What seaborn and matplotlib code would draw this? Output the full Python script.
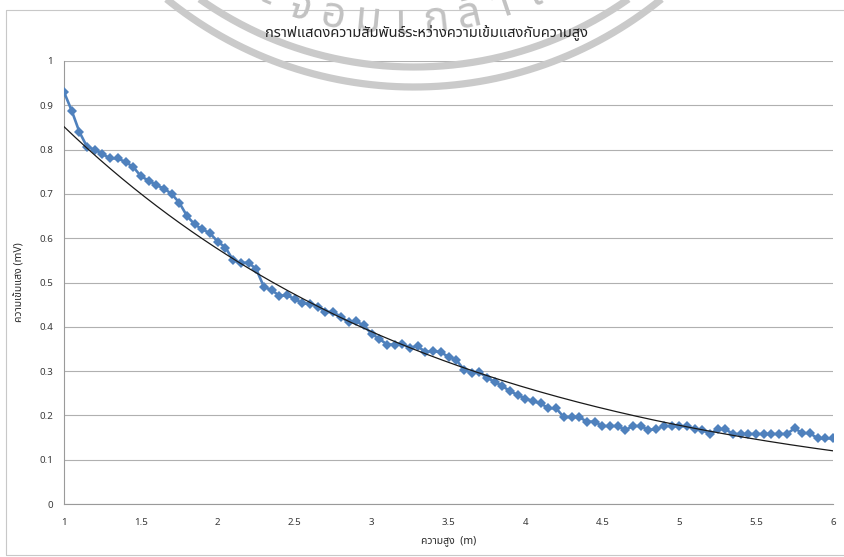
import numpy as np
import pandas as pd
import matplotlib
matplotlib.use("Agg")
import matplotlib.pyplot as plt
import seaborn as sns
from matplotlib import font_manager, ft2font

# ---- measured data -------------------------------------------------------
height_m = [
    1.00, 1.05, 1.10, 1.15, 1.20, 1.25, 1.30, 1.35, 1.40, 1.45,
    1.50, 1.55, 1.60, 1.65, 1.70, 1.75, 1.80, 1.85, 1.90, 1.95,
    2.00, 2.05, 2.10, 2.15, 2.20, 2.25, 2.30, 2.35, 2.40, 2.45,
    2.50, 2.55, 2.60, 2.65, 2.70, 2.75, 2.80, 2.85, 2.90, 2.95,
    3.00, 3.05, 3.10, 3.15, 3.20, 3.25, 3.30, 3.35, 3.40, 3.45,
    3.50, 3.55, 3.60, 3.65, 3.70, 3.75, 3.80, 3.85, 3.90, 3.95,
    4.00, 4.05, 4.10, 4.15, 4.20, 4.25, 4.30, 4.35, 4.40, 4.45,
    4.50, 4.55, 4.60, 4.65, 4.70, 4.75, 4.80, 4.85, 4.90, 4.95,
    5.00, 5.05, 5.10, 5.15, 5.20, 5.25, 5.30, 5.35, 5.40, 5.45,
    5.50, 5.55, 5.60, 5.65, 5.70, 5.75, 5.80, 5.85, 5.90, 5.95,
    6.00,
]
intensity_mv = [
    0.930, 0.888, 0.840, 0.806, 0.800, 0.790, 0.780, 0.780, 0.772, 0.761,
    0.740, 0.730, 0.720, 0.712, 0.700, 0.680, 0.650, 0.631, 0.620, 0.611,
    0.592, 0.579, 0.550, 0.544, 0.545, 0.530, 0.490, 0.483, 0.470, 0.471,
    0.463, 0.453, 0.452, 0.445, 0.434, 0.433, 0.423, 0.410, 0.412, 0.403,
    0.384, 0.373, 0.360, 0.360, 0.362, 0.353, 0.356, 0.343, 0.345, 0.343,
    0.332, 0.326, 0.303, 0.296, 0.298, 0.285, 0.276, 0.266, 0.255, 0.246,
    0.238, 0.232, 0.227, 0.216, 0.216, 0.196, 0.196, 0.196, 0.186, 0.186,
    0.176, 0.176, 0.176, 0.167, 0.176, 0.176, 0.167, 0.169, 0.176, 0.176,
    0.175, 0.176, 0.169, 0.167, 0.158, 0.169, 0.169, 0.158, 0.158, 0.158,
    0.158, 0.158, 0.158, 0.158, 0.158, 0.171, 0.160, 0.160, 0.148, 0.148,
    0.148,
]

y_ticks = [0, 0.1, 0.2, 0.3, 0.4, 0.5, 0.6, 0.7, 0.8, 0.9, 1.0]
y_tick_labels = ["0", "0.1", "0.2", "0.3", "0.4", "0.5", "0.6", "0.7", "0.8", "0.9", "1"]
x_ticks = [1, 1.5, 2, 2.5, 3, 3.5, 4, 4.5, 5, 5.5, 6]
x_tick_labels = ["1", "1.5", "2", "2.5", "3", "3.5", "4", "4.5", "5", "5.5", "6"]

title_text = "กราฟแสดงความสัมพันธ์ระหว่างความเข้มแสงกับความสูง"
x_label = "ความสูง  (m)"
y_label = "ความเข้มแสง (mV)"
seal_text = ["ส", "ถ", "า", "บั", "น", "เ", "ท", "ค", "โ", "น", "โ", "ล", "ยี",
             "พ", "ร", "ะ", "จ", "อ", "ม", "เ", "ก", "ล้", "า", "เ", "จ้", "า",
             "คุ", "ณ", "ท", "ห", "า", "ร"]


def find_thai_family():
    preferred = ["Tahoma", "Noto Sans Thai", "Noto Sans Thai UI", "Noto Sans Thai Looped",
                 "Loma", "Garuda", "Sarabun", "TH Sarabun New", "Umpush", "Waree",
                 "Kinnari", "Norasi", "Tlwg Typo", "FreeSans", "Noto Serif Thai"]
    found = {}
    for path in font_manager.findSystemFonts():
        try:
            face = ft2font.FT2Font(path)
            if 0x0E01 in face.get_charmap():
                font_manager.fontManager.addfont(path)
                name = font_manager.FontProperties(fname=path).get_name()
                found.setdefault(name, path)
        except Exception:
            continue
    for name in preferred:
        if name in found:
            return name
    return sorted(found)[0] if found else None


sns.set_theme(style="white")
thai = find_thai_family()
plt.rcParams["font.family"] = [thai, "DejaVu Sans"] if thai else ["DejaVu Sans"]

W, H = 844, 557
fig = plt.figure(figsize=(W / 100, H / 100), dpi=100)
fig.patch.set_facecolor("white")

ax = fig.add_axes([64 / W, 1 - 504 / H, (833 - 64) / W, (504 - 61) / H])

df = pd.DataFrame({"height": height_m, "intensity": intensity_mv})
sns.lineplot(data=df, x="height", y="intensity", ax=ax, color="#4f81bd",
             linewidth=1.9, marker="D", markersize=5.5, markeredgewidth=0,
             estimator=None, sort=False, zorder=3)

# exponential trend line fitted to the measurements
slope, intercept = np.polyfit(df["height"], np.log(df["intensity"]), 1)
xs = np.linspace(min(height_m), max(height_m), 200)
trend = pd.DataFrame({"height": xs, "intensity": np.exp(intercept + slope * xs)})
sns.lineplot(data=trend, x="height", y="intensity", ax=ax, color="#1a1a1a",
             linewidth=0.9, zorder=4)

ax.set_xlim(1, 6)
ax.set_ylim(0, 1)
ax.set_yticks(y_ticks)
ax.set_yticklabels(y_tick_labels)
ax.set_xticks(x_ticks)
ax.set_xticklabels(x_tick_labels)
ax.yaxis.grid(True, color="#b0b0b0", linewidth=0.8)
ax.xaxis.grid(False)
for side in ("top", "right"):
    ax.spines[side].set_visible(False)
for side in ("left", "bottom"):
    ax.spines[side].set_color("#9a9a9a")
    ax.spines[side].set_linewidth(0.8)
ax.tick_params(axis="both", direction="out", length=3, width=0.7, color="#9a9a9a",
               labelsize=7, labelcolor="#3a3a3a")
ax.tick_params(axis="x", pad=7)
ax.tick_params(axis="y", pad=5)
ax.set_xlabel(x_label, fontsize=7.5, fontweight="bold", color="#2a2a2a", labelpad=6)
ax.set_ylabel(y_label, fontsize=7.5, fontweight="bold", color="#2a2a2a", labelpad=10)

# overlay in pixel units for the frame and the seal
ov = fig.add_axes([0, 0, 1, 1], zorder=2)
ov.set_xlim(0, W)
ov.set_ylim(H, 0)
ov.axis("off")
ov.patch.set_alpha(0)

ov.plot([6, 6, W + 5], [555, 10, 10], color="#c8c8c8", linewidth=0.8)
ov.plot([6, W + 5], [555, 555], color="#c8c8c8", linewidth=0.8)

cx, cy = 414, -305
for r in (372, 392):
    ang = np.linspace(-0.8, 0.8, 300)
    ov.plot(cx + r * np.sin(ang), cy + r * np.cos(ang), color="#cacaca",
            linewidth=5.2, solid_capstyle="butt")

tx, tr, step = 398, 328, np.radians(6.0)
anchor = seal_text.index("ม")
phi0 = np.arcsin((367 - tx) / tr)
for k, ch in enumerate(seal_text):
    phi = phi0 + (k - anchor) * step
    px, py = tx + tr * np.sin(phi), cy + tr * np.cos(phi)
    if py < -30:
        continue
    ov.text(px, py, ch, rotation=np.degrees(phi), rotation_mode="anchor",
            ha="center", va="center", fontsize=31, fontweight="bold",
            color="#c2c2c2")

fig.text(427 / W, 1 - 32 / H, title_text, ha="center", va="center",
         fontsize=10.5, fontweight="bold", color="#222222", zorder=10)

fig.savefig("out.png", dpi=100, facecolor="white")
